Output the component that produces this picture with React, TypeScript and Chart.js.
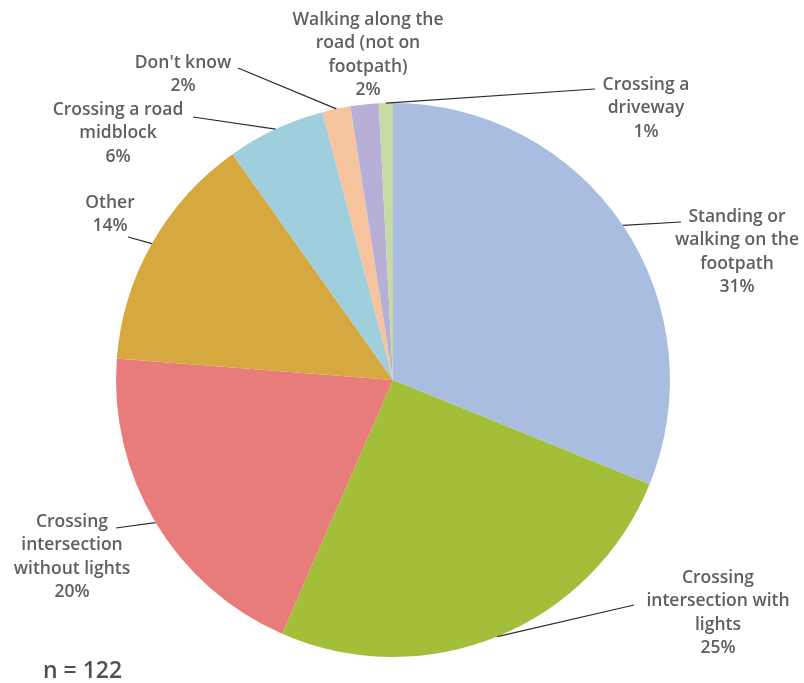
import React, { useEffect, useRef } from "react";
import { Chart, registerables } from "chart.js";

Chart.register(...registerables);

const categories = [
  "Standing or walking on the footpath",
  "Crossing intersection with lights",
  "Crossing intersection without lights",
  "Other",
  "Crossing a road midblock",
  "Don't know",
  "Walking along the road (not on footpath)",
  "Crossing a driveway",
];
const counts = [38, 31, 24, 17, 7, 2, 2, 1];
const percentLabels = ["31%", "25%", "20%", "14%", "6%", "2%", "2%", "1%"];
const labelLines = [
  ["Standing or", "walking on the", "footpath"],
  ["Crossing", "intersection with", "lights"],
  ["Crossing", "intersection", "without lights"],
  ["Other"],
  ["Crossing a road", "midblock"],
  ["Don't know"],
  ["Walking along the", "road (not on", "footpath)"],
  ["Crossing a", "driveway"],
];
const colors = ["#a8bde0", "#a3bf3a", "#e87c7b", "#d6a940", "#9fcfdd", "#f5c49d", "#b8afd6", "#c6daa4"];
const sampleNote = "n = 122";

// label placement (style only): text centre x, first line middle y, leader elbow point
const labelLayout = [
  { cx: 737, y: 217, ex: 681, ey: 222 },
  { cx: 718, y: 578, ex: 634, ey: 605 },
  { cx: 72, y: 522, ex: 116, ey: 528 },
  { cx: 110, y: 203, ex: 128, ey: 237 },
  { cx: 118, y: 110, ex: 193, ey: 117 },
  { cx: 183, y: 63, ex: 238, ey: 68 },
  { cx: 368, y: 20, ex: null, ey: null },
  { cx: 646, y: 85, ex: 595, ey: 89 },
];

const labelPlugin = {
  id: "pieLabels",
  afterDraw(chart: any) {
    const ctx = chart.ctx;
    const meta = chart.getDatasetMeta(0);
    ctx.save();
    meta.data.forEach((arc: any, i: number) => {
      const p = arc.getProps(["x", "y", "startAngle", "endAngle", "outerRadius"], true);
      const mid = (p.startAngle + p.endAngle) / 2;
      const ax = p.x + Math.cos(mid) * p.outerRadius;
      const ay = p.y + Math.sin(mid) * p.outerRadius;
      const L = labelLayout[i];
      if (L.ex !== null) {
        ctx.beginPath();
        ctx.strokeStyle = "#2b2b2b";
        ctx.lineWidth = 1.2;
        ctx.moveTo(ax, ay);
        ctx.lineTo(L.ex, L.ey);
        ctx.stroke();
      }
      ctx.fillStyle = "#5f5f5f";
      ctx.font = "600 17.5px 'Open Sans'";
      ctx.textAlign = "center";
      ctx.textBaseline = "middle";
      const lines = [...labelLines[i], percentLabels[i]];
      lines.forEach((t, k) => {
        ctx.fillText(t, L.cx, L.y + k * 23.5);
      });
    });
    ctx.fillStyle = "#505050";
    ctx.font = "600 23px 'Open Sans'";
    ctx.textAlign = "left";
    ctx.textBaseline = "middle";
    ctx.fillText(sampleNote, 43, 671);
    ctx.restore();
  },
};

export default function App() {
  const ref = useRef<HTMLCanvasElement>(null);
  useEffect(() => {
    if (!ref.current) return;
    const chart = new Chart(ref.current, {
      type: "pie",
      data: {
        labels: categories,
        datasets: [
          {
            data: counts,
            backgroundColor: colors,
            borderWidth: 0,
          },
        ],
      },
      options: {
        responsive: false,
        animation: false,
        layout: { padding: { left: 116, right: 134, top: 103, bottom: 26 } },
        plugins: {
          legend: { display: false },
          tooltip: { enabled: false },
        },
      },
      plugins: [labelPlugin],
    });
    return () => chart.destroy();
  }, []);
  return (
    <div style={{ position: "fixed", left: 0, top: 0, width: 804, height: 683, background: "#fff" }}>
      <canvas ref={ref} width={804} height={683} style={{ width: 804, height: 683 }} />
    </div>
  );
}
